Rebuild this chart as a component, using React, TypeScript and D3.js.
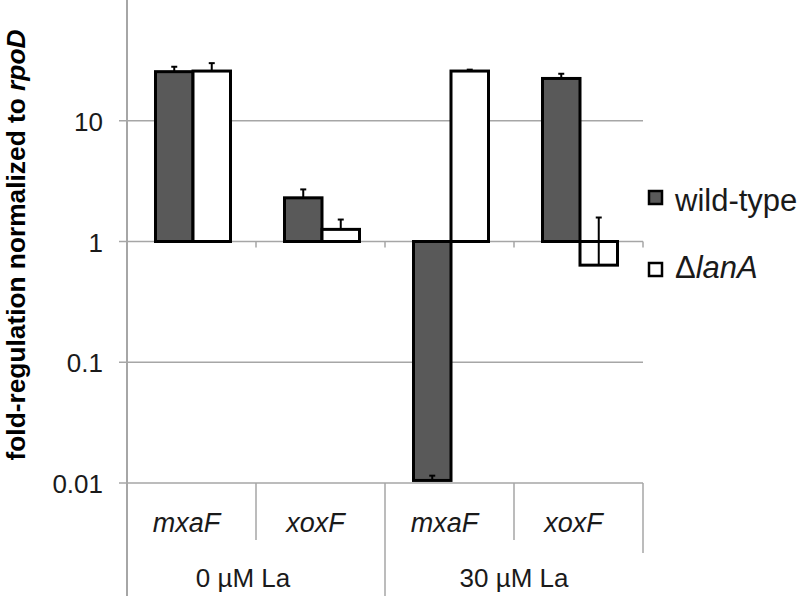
import React from "react";
import * as d3 from "d3";

const categories = ["mxaF", "xoxF", "mxaF", "xoxF"];
const groupLabels = ["0 µM La", "30 µM La"];
const seriesNames = ["wild-type", "ΔlanA"];
const wildType = [25.5, 2.3, 0.0105, 22.4];
const wildTypeErrEnd = [28, 2.7, 0.0115, 24.5];
const lanA = [25.8, 1.26, 25.8, 0.637];
const lanAErrEnd = [30, 1.52, 26.5, 1.58];
const yTicks = [0.01, 0.1, 1, 10];
const yTickLabels = ["0.01", "0.1", "1", "10"];

const W = 800;
const H = 599;
const left = 127;
const right = 643;
const top = 0;
const bottom = 483;
const FONT = "'Liberation Sans', Arial, Helvetica, sans-serif";
const GRID = "#a6a6a6";
const DARK = "#595959";

export default function App() {
  const idx = categories.map((_, i) => String(i));
  const x = d3
    .scaleBand<string>()
    .domain(idx)
    .range([left, right])
    .paddingInner(54 / 129)
    .paddingOuter(27 / 129);
  const xs = d3.scaleBand<string>().domain(["0", "1"]).range([0, x.bandwidth()]);
  const y = d3.scaleLog().domain([0.01, 100]).range([bottom, top]);
  const base = y(1);
  const series = [
    { vals: wildType, err: wildTypeErrEnd, fill: DARK },
    { vals: lanA, err: lanAErrEnd, fill: "#ffffff" },
  ];
  const step = x.step();
  const catRight = (k: string) => (x(k) as number) - (step - x.bandwidth()) / 2 + step;

  return (
    <svg
      width={W}
      height={H}
      style={{ position: "absolute", left: 0, top: 0, background: "#fff" }}
      fontFamily={FONT}
    >
      <rect x={0} y={0} width={W} height={H} fill="#fff" />
      {yTicks.map((t) => (
        <line key={"g" + t} x1={left - 8} x2={right} y1={y(t)} y2={y(t)} stroke={GRID} strokeWidth={1.5} />
      ))}
      <line x1={left} x2={left} y1={0} y2={596} stroke={GRID} strokeWidth={2} />
      {idx.map((k) => (
        <line key={"xt" + k} x1={catRight(k)} x2={catRight(k)} y1={base} y2={base + 6} stroke={GRID} strokeWidth={1.5} />
      ))}
      {idx.map((k, i) => {
        const bx = catRight(k);
        const y2 = i === 3 ? 553 : i % 2 === 1 ? 596 : 540;
        return <line key={"sep" + k} x1={bx} x2={bx} y1={bottom} y2={y2} stroke={GRID} strokeWidth={1.5} />;
      })}
      {yTicks.map((t, i) => (
        <text key={"yl" + t} x={103} y={y(t) + 10} textAnchor="end" fontSize={26} fill="#1a1a1a">
          {yTickLabels[i]}
        </text>
      ))}
      {series.map((s, si) =>
        s.vals.map((v, i) => {
          const bx = (x(String(i)) as number) + (xs(String(si)) as number);
          const yv = y(v);
          return (
            <rect
              key={"b" + si + i}
              x={bx + 1.5}
              y={Math.min(yv, base)}
              width={xs.bandwidth()}
              height={Math.abs(base - yv)}
              fill={s.fill}
              stroke="#000"
              strokeWidth={3}
            />
          );
        })
      )}
      {series.map((s, si) =>
        s.vals.map((v, i) => {
          const cx = (x(String(i)) as number) + (xs(String(si)) as number) + xs.bandwidth() / 2 + 1.5;
          const y1 = y(v);
          const y2 = y(s.err[i]);
          return (
            <g key={"e" + si + i}>
              <line x1={cx} x2={cx} y1={y1} y2={y2} stroke="#000" strokeWidth={2} />
              <line x1={cx - 3} x2={cx + 3} y1={y2} y2={y2} stroke="#000" strokeWidth={2} />
            </g>
          );
        })
      )}
      {categories.map((c, i) => (
        <text
          key={"c" + i}
          x={(x(String(i)) as number) + x.bandwidth() / 2 - 5}
          y={532}
          textAnchor="middle"
          fontSize={27}
          fontStyle="italic"
          fill="#1a1a1a"
        >
          {c}
        </text>
      ))}
      {groupLabels.map((g, gi) => (
        <text
          key={"gl" + gi}
          x={gi === 0 ? 243 : 514}
          y={587}
          textAnchor="middle"
          fontSize={26}
          fill="#1a1a1a"
        >
          {g}
        </text>
      ))}
      <text
        transform={`translate(25,245) rotate(-90)`}
        textAnchor="middle"
        fontSize={26.3}
        fontWeight="bold"
        fill="#000"
      >
        fold-regulation normalized to <tspan fontStyle="italic">rpoD</tspan>
      </text>
      {seriesNames.map((n, i) => (
        <g key={"lg" + i}>
          <rect x={649} y={i === 0 ? 191 : 263} width={13} height={13} fill={series[i].fill} stroke="#000" strokeWidth={2.5} />
          <text x={675} y={i === 0 ? 211 : 278} fontSize={31} fill="#1a1a1a">
            {i === 0 ? n : (<><tspan>Δ</tspan><tspan fontStyle="italic">lanA</tspan></>)}
          </text>
        </g>
      ))}
    </svg>
  );
}
